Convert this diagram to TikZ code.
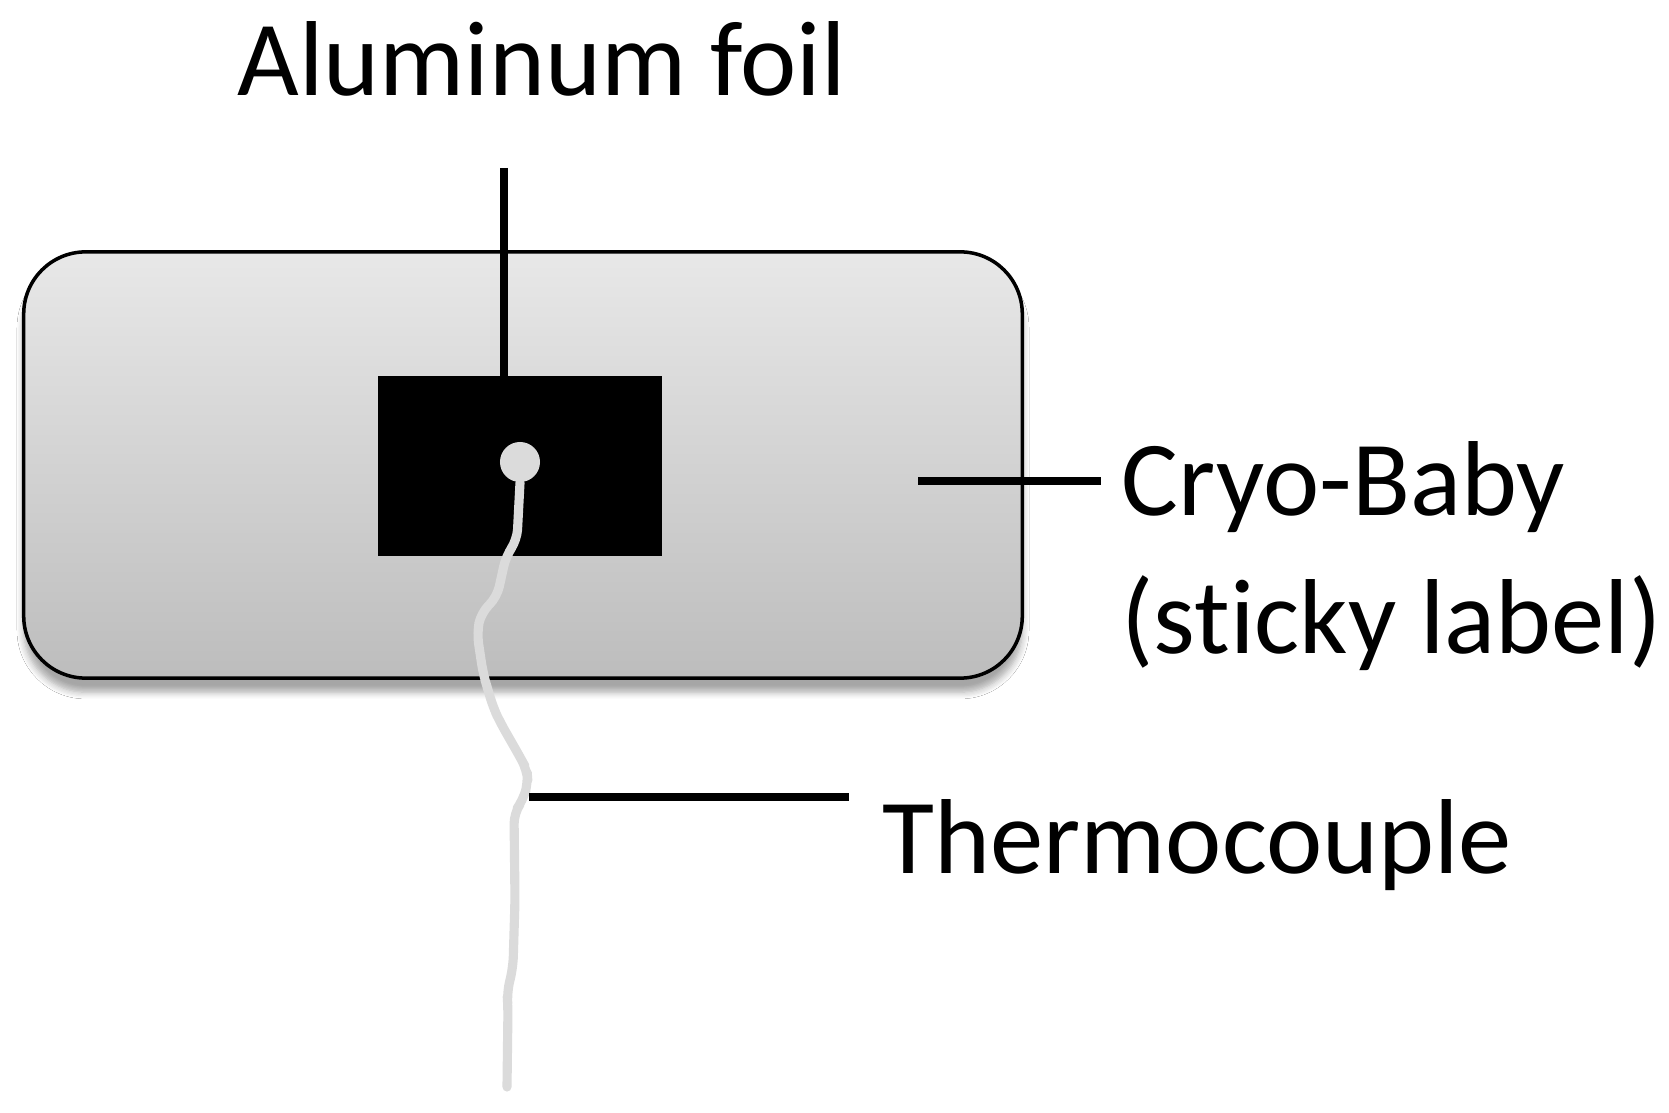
\documentclass[tikz,border=0pt]{standalone}
\usepackage{fontspec}
\setmainfont{Carlito}[Ligatures=NoCommon]
\usetikzlibrary{shadows.blur}
\tikzset{
  labeltext/.style={font=\fontsize{30.3pt}{39.5pt}\selectfont, inner sep=0pt, anchor=base west},
  leader/.style={line width=2.2pt},
  wire/.style={line width=2.6pt, draw=black!14, line join=round, line cap=round, rounded corners=3pt},
}
\begin{document}
\begin{tikzpicture}[x=0.01cm,y=-0.01cm]
\useasboundingbox[fill=white] (0,0) rectangle (1669,1113);
% sticky label with foil and bead
\node[draw, line width=1pt, rounded corners=0.62cm, top color=black!9, bottom color=black!26,
  minimum width=9.98cm, minimum height=4.26cm,
  blur shadow={shadow xshift=0pt, shadow yshift=-4pt, shadow opacity=35, shadow blur steps=6}] (baby) at (523,465) {};
\node[fill=black, minimum width=2.84cm, minimum height=1.79cm, inner sep=0pt] (foil) at (520,466) {};
\node[circle, fill=black!14, minimum size=0.4cm, inner sep=0pt] (bead) at (520,462) {};
% thermocouple wire
\draw[wire] (bead.south) -- (517,540) -- (506,556) -- (497,597) -- (481,613) -- (477,633)
  -- (483,673) -- (493,707) -- (500,722) -- (520,757) -- (527,770) -- (528,783) -- (523,800)
  -- (514,813) -- (515,900) -- (513,967) -- (507,993) -- (508,1007) -- (507,1087);
% labels
\node[labeltext] (alu) at (237,96) {Aluminum foil};
\node[labeltext, align=left] (cryo) at (1121,654) {Cryo-Baby\\(sticky label)};
\node[labeltext] (thermo) at (882,874) {Thermocouple};
\coordinate (alutip) at (504,168);
\coordinate (cryotip) at (918,481);
\coordinate (thermotip) at (529,797);
\draw[leader] (alutip) -- (alutip |- foil.north);
\draw[leader, shorten >=0.2cm] (cryotip) -- (cryotip -| cryo.west);
\draw[leader, shorten >=0.33cm] (thermotip) -- (thermotip -| thermo.west);
\end{tikzpicture}
\end{document}
